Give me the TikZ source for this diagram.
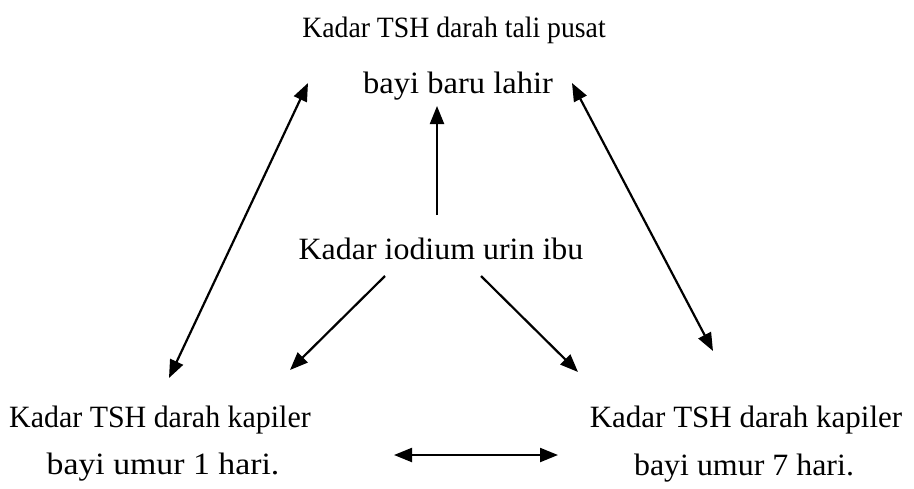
\documentclass[tikz,border=0pt]{standalone}
\usepackage{fontspec}
\setmainfont{Liberation Serif}
\usetikzlibrary{arrows.meta}
\begin{document}
\begin{tikzpicture}[x=1pt,y=-1pt,
  lbl/.style={font=\fontsize{31}{36}\selectfont, inner sep=0pt, anchor=base},
  arr/.style={line width=2.2pt, -{Triangle[length=18pt,width=14pt]}},
  darr/.style={line width=2.2pt, {Triangle[length=18pt,width=14pt]}-{Triangle[length=18pt,width=14pt]}}]
\useasboundingbox (0,0) rectangle (914,488);
\node[lbl, font=\fontsize{29.5}{34}\selectfont] (t1) at (454,37) {\scalebox{0.94}[1]{Kadar TSH darah tali pusat}};
\node[lbl] (t2) at (458,93) {\scalebox{1.05}[1]{bayi baru lahir}};
\node[lbl] (m) at (441,259) {\scalebox{1.03}[1]{Kadar iodium urin ibu}};
\node[lbl] (l1) at (160,427) {\scalebox{0.965}[1]{Kadar TSH darah kapiler}};
\node[lbl] (l2) at (163,474) {\scalebox{1.09}[1]{bayi umur 1 hari.}};
\node[lbl] (r1) at (746,427) {Kadar TSH darah kapiler};
\node[lbl] (r2) at (744,475) {\scalebox{1.03}[1]{bayi umur 7 hari.}};
\coordinate (vs) at (437,215); \coordinate (ve) at (437,106);
\coordinate (ls) at (385,276); \coordinate (le) at (290,370);
\coordinate (rs) at (481,276); \coordinate (re) at (578,372);
\coordinate (da) at (308,83); \coordinate (db) at (169,378);
\coordinate (dc) at (572,83); \coordinate (dd) at (713,351);
\coordinate (ha) at (394,455); \coordinate (hb) at (558,455);
\draw[arr] (vs) -- (ve);
\draw[arr] (ls) -- (le);
\draw[arr] (rs) -- (re);
\draw[darr] (da) -- (db);
\draw[darr] (dc) -- (dd);
\draw[darr] (ha) -- (hb);
\end{tikzpicture}
\end{document}
